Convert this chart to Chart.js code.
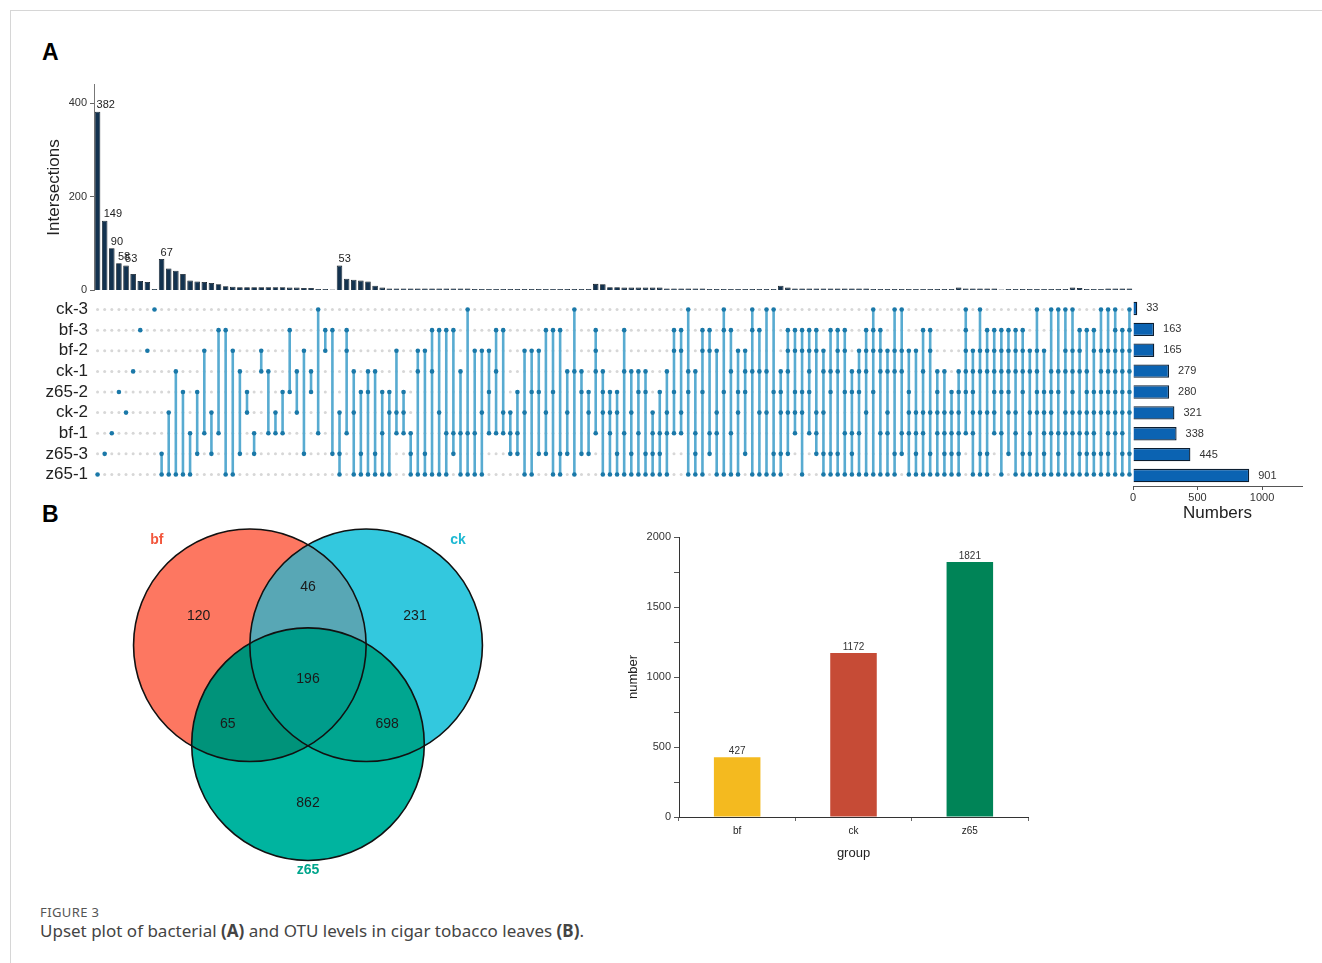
<!DOCTYPE html>
<html>
<head>
<meta charset="utf-8">
<script src="https://cdn.jsdelivr.net/npm/chart.js@4.4.1/dist/chart.umd.min.js"></script>
<style>
  body { margin: 0; background: #fff; width: 1322px; height: 963px; overflow: hidden; position: relative;
         font-family: "Liberation Sans", Arial, sans-serif; }
  .frame { position: absolute; left: 10px; top: 10px; right: 0; bottom: 0;
           border-top: 1px solid #d6d6d6; border-left: 1px solid #d6d6d6; }
  .box { position: absolute; }
  .panel { position: absolute; font: bold 23px "Liberation Sans", Arial, sans-serif; color: #000; }
  .cap1 { position: absolute; left: 40px; top: 903px; font: 13px "Noto Sans", sans-serif; color: #555; letter-spacing: 0.4px; }
  .cap2 { position: absolute; left: 40px; top: 919px; font: 17px "Noto Sans", sans-serif; color: #444; }
</style>
</head>
<body>
<div class="frame"></div>
<div class="panel" style="left:42px;top:39px;">A</div>
<div class="panel" style="left:42px;top:501px;">B</div>

<div class="box" style="left:40px;top:75px;"><canvas id="cBars" width="1100" height="225"></canvas></div>
<div class="box" style="left:40px;top:283px;"><canvas id="cMatrix" width="1100" height="218"></canvas></div>
<div class="box" style="left:1125px;top:298px;"><canvas id="cSets" width="190" height="226"></canvas></div>
<div class="box" style="left:110px;top:520px;"><canvas id="cVenn" width="400" height="365"></canvas></div>
<div class="box" style="left:610px;top:525px;"><canvas id="cOtu" width="430" height="345"></canvas></div>

<div class="cap1">FIGURE 3</div>
<div class="cap2">Upset plot of bacterial <b>(A)</b> and OTU levels in cigar tobacco leaves <b>(B)</b>.</div>

<script>
// ---- data ----
const setNames = ['ck-3', 'bf-3', 'bf-2', 'ck-1', 'z65-2', 'ck-2', 'bf-1', 'z65-3', 'z65-1'];
const setSizes = [33, 163, 165, 279, 280, 321, 338, 445, 901];

// intersection bar heights, left to right
const intersectionSizes = [
  382, 149, 90, 58, 53, 35, 20, 18, 3, 67,
  47, 42, 35, 21, 19, 18, 16, 13, 9, 8,
  7, 7, 7, 7, 7, 7, 7, 6, 6, 5,
  5, 3, 3, 2, 53, 25, 23, 21, 19, 10,
  6, 4, 4, 4, 4, 4, 4, 4, 4, 4,
  4, 4, 4, 3, 3, 3, 3, 3, 3, 3,
  3, 3, 3, 3, 3, 3, 3, 3, 3, 3,
  14, 13, 7, 7, 6, 6, 6, 6, 6, 6,
  4, 4, 4, 4, 4, 4, 3, 3, 3, 3,
  3, 3, 3, 3, 3, 3, 10, 6, 4, 4,
  4, 4, 4, 4, 4, 4, 4, 4, 4, 3,
  3, 3, 3, 3, 3, 3, 3, 3, 3, 3,
  3, 6, 4, 4, 4, 4, 4, 2, 3, 3,
  3, 3, 3, 3, 3, 3, 3, 6, 5, 3,
  3, 3, 4, 4, 4, 4
];

// member rows (index into setNames) of each intersection column
const intersectionSets = [
  [8], [7], [6], [4], [5], [3], [1], [2], [0], [7, 8],
  [5, 8], [3, 8], [4, 8], [6, 8], [4, 7], [2, 6], [5, 7], [1, 6], [1, 8], [2, 8],
  [3, 7], [4, 5], [6, 7], [2, 3], [3, 6], [5, 6], [4, 6], [1, 4], [3, 5], [2, 7],
  [3, 4], [0, 6], [1, 2], [1, 7], [5, 7, 8], [1, 2, 6], [3, 5, 8], [4, 7, 8], [3, 4, 8], [3, 7, 8],
  [4, 6, 8], [4, 5, 8], [2, 5, 6], [4, 5, 6], [6, 7, 8], [2, 3, 8], [2, 7, 8], [1, 3, 8], [1, 5, 8], [1, 6, 8],
  [1, 6, 7], [3, 6, 8], [0, 6, 8], [2, 6, 8], [2, 5, 8], [2, 4, 6], [1, 3, 6], [1, 5, 6], [5, 6, 7], [4, 6, 7],
  [2, 5, 8], [2, 4, 8], [2, 4, 7], [1, 5, 7], [1, 4, 8], [1, 7, 8], [3, 5, 7], [0, 3, 8], [3, 4, 7], [4, 5, 7],
  [1, 2, 3, 6], [3, 4, 5, 8], [4, 5, 6, 8], [4, 5, 7, 8], [1, 3, 6, 8], [3, 5, 7, 8], [3, 4, 6, 8], [3, 4, 7, 8], [5, 6, 7, 8], [4, 6, 7, 8],
  [3, 5, 6, 8], [1, 2, 4, 6], [1, 2, 5, 6], [0, 3, 4, 8], [3, 6, 7, 8], [1, 2, 4, 8], [1, 2, 6, 7], [2, 5, 6, 8], [0, 1, 4, 8], [1, 3, 6, 8],
  [2, 4, 5, 8], [2, 3, 4, 7], [0, 1, 3, 8], [1, 3, 5, 8], [0, 3, 5, 8], [0, 4, 7, 8], [3, 4, 5, 7, 8], [1, 2, 3, 5, 7], [1, 2, 4, 5, 6], [1, 2, 4, 5, 8],
  [1, 2, 3, 4, 6], [1, 2, 5, 6, 7], [2, 3, 5, 7, 8], [1, 3, 4, 7, 8], [1, 2, 3, 7, 8], [1, 2, 4, 6, 8], [3, 4, 6, 7, 8], [2, 3, 4, 6, 8], [1, 2, 3, 5, 8], [0, 1, 2, 4, 8],
  [1, 2, 3, 6, 8], [2, 3, 5, 6, 8], [0, 2, 3, 7, 8], [0, 2, 3, 6, 7], [2, 4, 5, 6, 8], [2, 5, 6, 7, 8], [1, 3, 5, 6, 8], [1, 2, 5, 7, 8], [3, 4, 5, 6, 8], [3, 5, 6, 7, 8],
  [4, 5, 6, 7, 8], [3, 4, 5, 6, 7, 8], [0, 1, 2, 3, 4, 6], [2, 3, 4, 5, 6, 8], [0, 2, 3, 5, 7, 8], [1, 2, 3, 5, 7, 8], [1, 2, 3, 4, 5, 6], [1, 2, 3, 4, 6, 8], [1, 2, 3, 4, 5, 7], [1, 2, 3, 5, 6, 8],
  [1, 2, 3, 4, 7, 8], [2, 3, 5, 6, 7, 8], [0, 2, 3, 4, 5, 8], [2, 4, 5, 6, 7, 8], [0, 3, 4, 5, 6, 8], [0, 3, 4, 6, 7, 8], [0, 2, 3, 5, 6, 8], [0, 2, 3, 4, 5, 6, 8], [1, 2, 3, 5, 6, 7, 8], [1, 3, 4, 5, 6, 7, 8],
  [1, 2, 4, 5, 6, 7, 8], [0, 2, 3, 4, 5, 7, 8], [0, 2, 3, 4, 5, 6, 7, 8], [0, 1, 2, 3, 4, 5, 6, 8], [1, 2, 3, 4, 5, 6, 7, 8], [0, 1, 2, 3, 4, 5, 7, 8]
];
const labelledColumns = [0, 1, 2, 3, 4, 9, 34];

// Venn (panel B, left)
const vennSets = ['bf', 'ck', 'z65'];
const vennRegions = ['bf', 'bf&ck', 'ck', 'bf&ck&z65', 'bf&z65', 'ck&z65', 'z65'];
const vennCounts = [120, 46, 231, 196, 65, 698, 862];

// OTU totals (panel B, right)
const groupNames = ['bf', 'ck', 'z65'];
const groupCounts = [427, 1172, 1821];

// ---- layout / style ----
const nCols = intersectionSizes.length;
const AXIS_W = 54;
const FONT = '"Liberation Sans", Arial, sans-serif';
Chart.defaults.font.family = FONT;
Chart.defaults.animation = false;
Chart.defaults.responsive = false;
Chart.defaults.plugins.legend.display = false;
Chart.defaults.plugins.tooltip.enabled = false;

// value labels above selected intersection bars
const upsetLabels = {
  id: 'upsetLabels',
  afterDatasetsDraw(chart) {
    const ctx = chart.ctx;
    const meta = chart.getDatasetMeta(0);
    ctx.save();
    ctx.font = '11px ' + FONT;
    ctx.fillStyle = '#222';
    ctx.textAlign = 'left';
    ctx.textBaseline = 'bottom';
    labelledColumns.forEach(i => {
      const bar = meta.data[i];
      ctx.fillText(String(intersectionSizes[i]), bar.x - 1, bar.y - 1);
    });
    ctx.restore();
  }
};

new Chart(document.getElementById('cBars'), {
  type: 'bar',
  data: {
    datasets: [{
      data: intersectionSizes.map((v, i) => ({ x: i, y: v })),
      backgroundColor: '#13324f',
      borderColor: '#06101a',
      borderWidth: 0.8,
      barPercentage: 0.78,
      categoryPercentage: 1
    }]
  },
  options: {
    layout: { padding: { top: 8, right: 7, bottom: 7, left: 0 } },
    scales: {
      x: { type: 'linear', min: -0.5, max: nCols - 0.5, offset: false, display: false },
      y: {
        min: 0, max: 440,
        afterBuildTicks: s => { s.ticks = [0, 200, 400].map(v => ({ value: v })); },
        afterFit: s => { s.width = AXIS_W; },
        grid: { drawOnChartArea: false, tickLength: 4, color: '#666' },
        border: { color: '#777' },
        ticks: { font: { size: 11 }, color: '#333', padding: 3 },
        title: { display: true, text: 'Intersections', font: { size: 17 }, color: '#222', padding: { top: 4, bottom: 0 } }
      }
    }
  },
  plugins: [upsetLabels]
});

// matrix of dots
const grayPts = [];
for (let c = 0; c < nCols; c++) for (let r = 0; r < setNames.length; r++) grayPts.push({ x: c, y: r });
const memberPts = [];
const linkPts = [];
intersectionSets.forEach((rows, c) => {
  rows.forEach(r => memberPts.push({ x: c, y: r }));
  if (rows.length > 1) {
    linkPts.push({ x: c, y: Math.min(...rows) }, { x: c, y: Math.max(...rows) }, { x: c, y: null });
  }
});

new Chart(document.getElementById('cMatrix'), {
  type: 'scatter',
  data: {
    datasets: [
      { data: memberPts, pointRadius: 2.3, pointBackgroundColor: '#1a78a8', pointBorderWidth: 0, order: 0 },
      { data: linkPts, showLine: true, spanGaps: false, pointRadius: 0, borderColor: '#58abd1', borderWidth: 2.6, order: 1 },
      { data: grayPts, pointRadius: 1.5, pointBackgroundColor: '#d7d7d7', pointBorderWidth: 0, order: 2 }
    ]
  },
  options: {
    layout: { padding: { top: 15, right: 7, bottom: 15, left: 0 } },
    scales: {
      x: { type: 'linear', min: -0.5, max: nCols - 0.5, display: false },
      y: {
        type: 'linear', min: -0.5, max: setNames.length - 0.5, reverse: true,
        afterBuildTicks: s => { s.ticks = setNames.map((_, i) => ({ value: i })); },
        afterFit: s => { s.width = AXIS_W; },
        grid: { display: false, drawTicks: false, tickLength: 0 },
        border: { display: false },
        ticks: { autoSkip: false, callback: v => setNames[v], font: { size: 17 }, color: '#222', padding: 6 }
      }
    }
  }
});

// set sizes on the right
const sizeLabels = {
  id: 'sizeLabels',
  afterDatasetsDraw(chart) {
    const ctx = chart.ctx;
    const meta = chart.getDatasetMeta(0);
    ctx.save();
    ctx.font = '11px ' + FONT;
    ctx.fillStyle = '#333';
    ctx.textAlign = 'left';
    ctx.textBaseline = 'middle';
    meta.data.forEach((bar, i) => ctx.fillText(String(setSizes[i]), bar.x + 9, bar.y));
    ctx.restore();
  }
};

new Chart(document.getElementById('cSets'), {
  type: 'bar',
  data: {
    labels: setNames,
    datasets: [{
      data: setSizes,
      backgroundColor: '#0b63b2',
      borderColor: '#0c1e31',
      borderWidth: 1.3,
      barPercentage: 0.64,
      categoryPercentage: 1
    }]
  },
  options: {
    indexAxis: 'y',
    layout: { padding: { top: 0, right: 13, bottom: 0, left: 8 } },
    scales: {
      y: { display: false },
      x: {
        min: 0, max: 1310,
        afterBuildTicks: s => { s.ticks = [0, 500, 1000].map(v => ({ value: v })); },
        afterFit: s => { s.height = 38; },
        grid: { drawOnChartArea: false, tickLength: 4, color: '#555' },
        border: { color: '#555' },
        ticks: { callback: v => String(v), font: { size: 11 }, color: '#333', padding: 1, maxRotation: 0 },
        title: { display: true, text: 'Numbers', font: { size: 17 }, color: '#222', padding: { top: 0, bottom: 0 } }
      }
    }
  },
  plugins: [sizeLabels]
});

// Venn diagram: symmetric 3-circle geometry in circle-radius units
const vennGeom = { bf: [-0.5, 0], ck: [0.5, 0], z65: [0, -0.85] };
const vennFill = {
  bf: '#fd7761', ck: '#33c8de', z65: '#00b49f',
  'bf&ck': '#58a7b5', 'bf&z65': '#00937a', 'ck&z65': '#00a690', 'bf&ck&z65': '#009c8b'
};
const vennTextPos = [[-0.94, 0.25], [0, 0.50], [0.92, 0.25], [0, -0.29], [-0.69, -0.68], [0.68, -0.68], [0, -1.36]];
const vennNamePos = [[-1.3, 0.9], [1.29, 0.9], [0, -1.93]];
const vennNameColor = ['#f2563c', '#1fb9d3', '#00a58c'];

const vennPlugin = {
  id: 'venn',
  beforeDatasetsDraw(chart) {
    const ctx = chart.ctx;
    const sx = chart.scales.x, sy = chart.scales.y;
    const rad = sx.getPixelForValue(1) - sx.getPixelForValue(0);
    const circle = k => {
      ctx.beginPath();
      ctx.arc(sx.getPixelForValue(vennGeom[k][0]), sy.getPixelForValue(vennGeom[k][1]), rad, 0, Math.PI * 2);
    };
    const fill = (k, col) => { circle(k); ctx.fillStyle = col; ctx.fill(); };
    ctx.save();
    vennSets.forEach(k => fill(k, vennFill[k]));
    ctx.save(); circle('bf'); ctx.clip(); fill('ck', vennFill['bf&ck']); fill('z65', vennFill['bf&z65']); ctx.restore();
    ctx.save(); circle('ck'); ctx.clip(); fill('z65', vennFill['ck&z65']); ctx.restore();
    ctx.save(); circle('bf'); ctx.clip(); circle('ck'); ctx.clip(); fill('z65', vennFill['bf&ck&z65']); ctx.restore();
    ctx.lineWidth = 1.6;
    ctx.strokeStyle = '#111';
    vennSets.forEach(k => { circle(k); ctx.stroke(); });
    ctx.restore();
  },
  afterDatasetsDraw(chart) {
    const ctx = chart.ctx;
    ctx.save();
    ctx.textAlign = 'center';
    ctx.textBaseline = 'middle';
    ctx.font = '14px ' + FONT;
    ctx.fillStyle = '#1a1a1a';
    chart.getDatasetMeta(0).data.forEach((p, i) => ctx.fillText(String(vennCounts[i]), p.x, p.y));
    ctx.font = 'bold 14px ' + FONT;
    chart.getDatasetMeta(1).data.forEach((p, i) => {
      ctx.fillStyle = vennNameColor[i];
      ctx.fillText(vennSets[i], p.x, p.y);
    });
    ctx.restore();
  }
};

new Chart(document.getElementById('cVenn'), {
  type: 'scatter',
  data: {
    datasets: [
      { data: vennTextPos.map(p => ({ x: p[0], y: p[1] })), pointRadius: 0 },
      { data: vennNamePos.map(p => ({ x: p[0], y: p[1] })), pointRadius: 0 }
    ]
  },
  options: {
    layout: { padding: 0 },
    scales: {
      x: { type: 'linear', min: -1.7025, max: 1.737, display: false },
      y: { type: 'linear', min: -2.061, max: 1.077, display: false }
    }
  },
  plugins: [vennPlugin]
});

// OTU number bars
const otuLabels = {
  id: 'otuLabels',
  afterDatasetsDraw(chart) {
    const ctx = chart.ctx;
    ctx.save();
    ctx.font = '10px ' + FONT;
    ctx.fillStyle = '#333';
    ctx.textAlign = 'center';
    ctx.textBaseline = 'bottom';
    chart.getDatasetMeta(0).data.forEach((bar, i) => ctx.fillText(String(groupCounts[i]), bar.x, bar.y - 1));
    ctx.restore();
  }
};

new Chart(document.getElementById('cOtu'), {
  type: 'bar',
  data: {
    labels: groupNames,
    datasets: [{
      data: groupCounts,
      backgroundColor: ['#f4ba1f', '#c64b36', '#008457'],
      barPercentage: 0.4,
      categoryPercentage: 1
    }]
  },
  options: {
    layout: { padding: { top: 12, right: 12, bottom: 9, left: 16 } },
    scales: {
      x: {
        afterFit: s => { s.height = 44; },
        grid: { offset: true, drawOnChartArea: false, tickLength: 4, color: '#666' },
        border: { color: '#333' },
        ticks: { font: { size: 10 }, color: '#222', padding: 4 },
        title: { display: true, text: 'group', font: { size: 13 }, color: '#222', padding: { top: 4, bottom: 0 } }
      },
      y: {
        min: 0, max: 2000,
        afterFit: s => { s.width = 53; },
        grid: { drawOnChartArea: false, tickLength: 5, color: '#555' },
        border: { color: '#333' },
        ticks: { stepSize: 250, callback: v => (v % 500 === 0 ? v : ''), font: { size: 11 }, color: '#333', padding: 3 },
        title: { display: true, text: 'number', font: { size: 13 }, color: '#222', padding: { top: 0, bottom: 4 } }
      }
    }
  },
  plugins: [otuLabels]
});
</script>
</body>
</html>
